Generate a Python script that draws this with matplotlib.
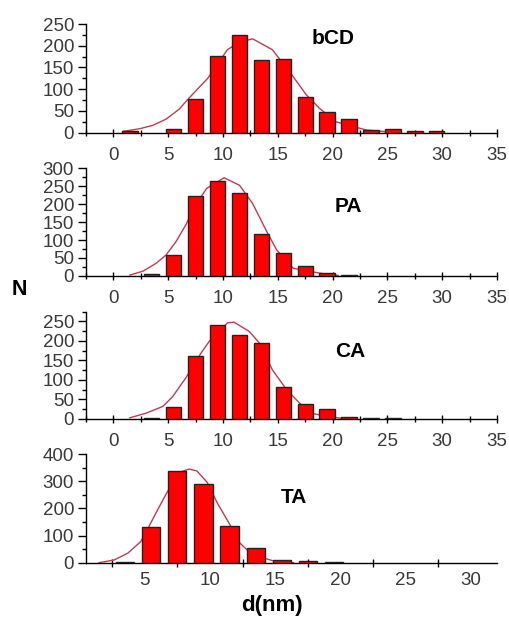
import matplotlib
matplotlib.use('Agg')
import matplotlib.pyplot as plt
import numpy as np
from matplotlib import rcParams

# Bin centres (nm), same for every sample
bin_centers = [1.5, 3.5, 5.5, 7.5, 9.5, 11.5, 13.5, 15.5, 17.5, 19.5, 21.5, 23.5, 25.5, 27.5, 29.5]

# Counts
bcd_counts = [4, 0, 8, 77, 177, 225, 167, 169, 83, 47, 32, 5, 8, 3, 3]
pa_counts = [0, 4, 58, 223, 265, 232, 117, 63, 28, 9, 3, 0, 0, 0, 0]
ca_counts = [0, 3, 31, 160, 240, 216, 195, 81, 39, 26, 5, 3, 3, 0, 0]
ta_counts = [0, 4, 130, 337, 291, 134, 53, 11, 5, 4, 0, 0, 0, 0, 0]

# Fitted curves, points
bcd_fit_x = [0.9, 2.4, 3.6, 4.8, 6.0, 6.8, 8.6, 10.4, 11.5, 12.7, 14.5, 16.4, 17.6, 18.8, 20.3, 21.3, 23.1, 25.0]
bcd_fit_y = [3, 9, 17, 31, 54, 77, 125, 191, 208, 216, 191, 129, 87, 56, 25, 18, 6, 2]
pa_fit_x = [1.5, 2.7, 3.9, 4.8, 5.7, 6.6, 7.5, 8.5, 10.1, 11.5, 12.7, 14.0, 14.9, 16.4, 18.9, 20.5]
pa_fit_y = [2, 13, 35, 58, 95, 142, 198, 244, 274, 253, 202, 123, 72, 21, 7, 1]
ca_fit_x = [1.5, 3.0, 4.5, 5.4, 6.6, 8.0, 8.75, 10.4, 11.0, 12.4, 13.3, 14.5, 15.8, 17.0, 18.3, 20.7]
ca_fit_y = [3, 15, 32, 57, 105, 169, 199, 246, 248, 224, 195, 126, 75, 40, 13, 2]
ta_fit_x = [1.5, 2.65, 3.7, 4.7, 5.2, 6.0, 6.7, 7.6, 8.4, 9.0, 9.8, 10.55, 11.6, 12.3, 12.85, 13.8, 14.9, 16.4]
ta_fit_y = [0, 10, 35, 78, 122, 196, 258, 332, 345, 338, 295, 221, 134, 72, 47, 22, 6, 0]

sample_names = ['bCD', 'PA', 'CA', 'TA']

BAR_COLOR = '#ff0000'
FIT_COLOR = '#c43a4e'
TEXT_COLOR = '#3a3a3a'


def set_rcparams():
    rcParams['font.family'] = ['Liberation Sans', 'DejaVu Sans']
    rcParams['font.size'] = 13.5
    rcParams['xtick.color'] = 'black'
    rcParams['ytick.color'] = 'black'
    rcParams['xtick.labelcolor'] = TEXT_COLOR
    rcParams['ytick.labelcolor'] = TEXT_COLOR
    rcParams['axes.linewidth'] = 1.0


def plot_panel(ax, counts, fit_x, fit_y, name, label_pos, ylim, ystep):
    # Only draw bins that have something in them
    xs = [x for x, c in zip(bin_centers, counts) if c > 0]
    cs = [c for c in counts if c > 0]
    ax.bar(xs, cs, width=1.4, color=BAR_COLOR, edgecolor='#222222', linewidth=1.0, zorder=3)
    ax.plot(fit_x, fit_y, color=FIT_COLOR, linewidth=1.0, zorder=2)

    ax.set_ylim(0, ylim)
    ax.set_yticks(np.arange(0, ylim + 1, ystep))
    ax.set_yticks(np.arange(ystep / 2, ylim, ystep), minor=True)
    ax.tick_params(axis='y', which='major', direction='out', length=5.5, width=1, pad=3)
    ax.tick_params(axis='y', which='minor', direction='out', length=3, width=1)

    ax.spines['top'].set_visible(False)
    ax.spines['right'].set_visible(False)

    ax.text(label_pos[0], label_pos[1], name, fontsize=15, fontweight='bold',
            ha='center', va='center', color='black')


def main():
    set_rcparams()
    fig = plt.figure(figsize=(5.09, 6.17), dpi=100)

    left = 0.169
    width = 0.8075
    ax1 = fig.add_axes([left, 0.785, width, 0.176])
    ax2 = fig.add_axes([left, 0.553, width, 0.174])
    ax3 = fig.add_axes([left, 0.321, width, 0.174])
    ax4 = fig.add_axes([left, 0.088, width, 0.176])

    plot_panel(ax1, bcd_counts, bcd_fit_x, bcd_fit_y, sample_names[0], (20.0, 216), 250, 50)
    plot_panel(ax2, pa_counts, pa_fit_x, pa_fit_y, sample_names[1], (21.4, 193), 300, 50)
    plot_panel(ax3, ca_counts, ca_fit_x, ca_fit_y, sample_names[2], (21.6, 173), 275, 50)
    ax3.set_yticks(np.arange(0, 251, 50))
    ax3.set_yticks(np.arange(25, 276, 50), minor=True)
    plot_panel(ax4, ta_counts, ta_fit_x, ta_fit_y, sample_names[3], (16.4, 239), 400, 100)

    # Upper three panels share the same x scale
    for ax in [ax1, ax2, ax3]:
        ax.set_xlim(-2.5, 35)
        ax.set_xticks(np.arange(0, 36, 5))
        ax.set_xticks(np.arange(-2.5, 35, 5), minor=True)
        ax.tick_params(axis='x', which='major', direction='inout', length=6, width=1, pad=7)
        ax.tick_params(axis='x', which='minor', direction='inout', length=5, width=1)

    # Bottom panel: ticks sit between the labels
    ax4.set_xlim(0.5, 32)
    ax4.set_xticks(np.arange(5, 31, 5))
    ax4.set_xticks(np.arange(2.5, 32, 5), minor=True)
    ax4.tick_params(axis='x', which='major', length=0, pad=6.5)
    ax4.tick_params(axis='x', which='minor', direction='inout', length=6, width=1)

    fig.text(0.0387, 0.530, 'N', fontsize=15.5, fontweight='bold', ha='center', va='center')
    fig.text(0.534, 0.0194, 'd(nm)', fontsize=16, fontweight='bold', ha='center', va='center')

    fig.savefig('out.png', dpi=100)


if __name__ == '__main__':
    main()
